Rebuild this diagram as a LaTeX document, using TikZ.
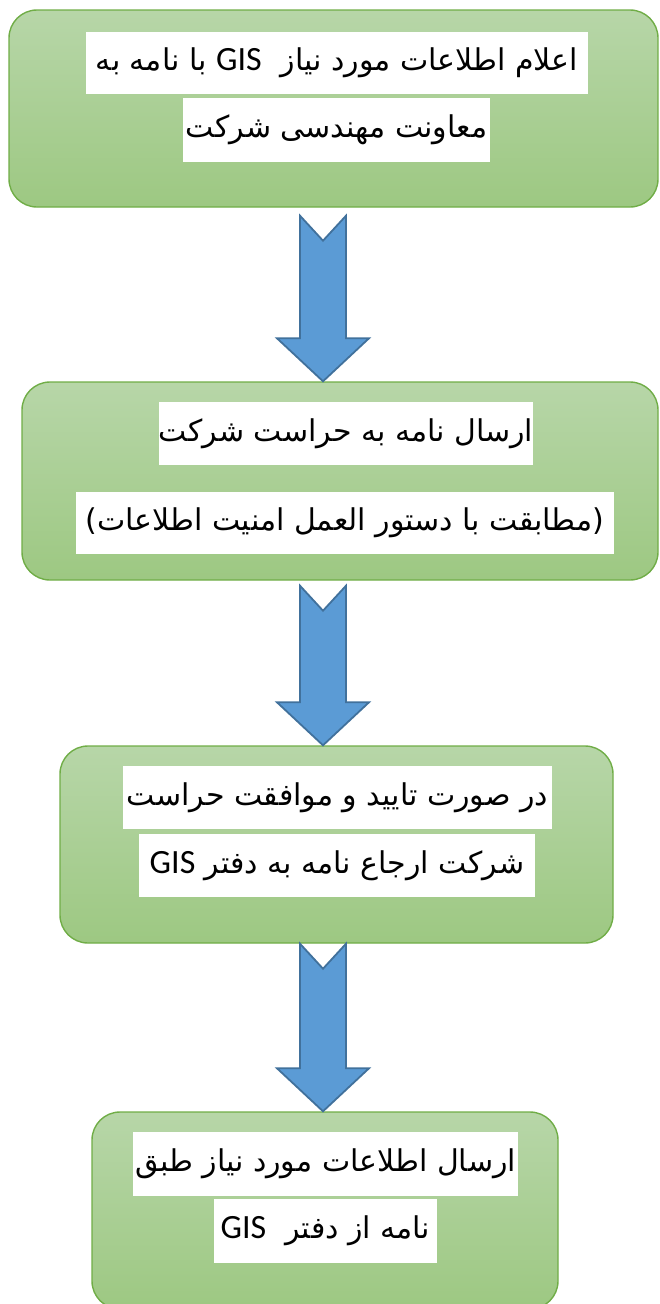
\documentclass[tikz,border=0pt]{standalone}
\usepackage{fontspec}
\TeXXeTstate=1
\newfontfamily\fa[Script=Arabic]{DejaVu Sans}
\newfontfamily\gisfont{Carlito}
\usetikzlibrary{calc}
\definecolor{boxedge}{RGB}{112,173,71}
\definecolor{boxtop}{RGB}{183,214,168}
\definecolor{boxbot}{RGB}{157,200,130}
\definecolor{arrfill}{RGB}{91,155,213}
\definecolor{arredge}{RGB}{65,113,156}
\newcommand\GIS{\beginL{\gisfont\fontsize{34}{40}\selectfont GIS}\endL}
\newcommand\blockarr[2]{%
  \draw[barrow] ($(#1)+(-23,0)$) -- ($(#1)+(0,25)$) -- ($(#1)+(23,0)$)
    -- ($(#2)+(23,-43)$) -- ($(#2)+(46,-43)$) -- (#2)
    -- ($(#2)+(-46,-43)$) -- ($(#2)+(-23,-43)$) -- cycle;}
\begin{document}
\begin{tikzpicture}[x=1pt,y=-1pt,
  stepbox/.style={draw=boxedge, line width=1.4pt, rounded corners=28pt,
    top color=boxtop, bottom color=boxbot, inner sep=0pt},
  textline/.style={fill=white, inner sep=0pt, text=black,
    font=\fa\fontsize{30}{36}\selectfont},
  barrow/.style={fill=arrfill, draw=arredge, line width=1.8pt, line join=miter}]
\useasboundingbox (0,0) rectangle (659,1304);
% boxes
\node[stepbox, minimum width=649pt, minimum height=197pt] (b1) at (333.5,108.5) {};
\node[stepbox, minimum width=636pt, minimum height=198pt] (b2) at (340,481) {};
\node[stepbox, minimum width=553pt, minimum height=197pt] (b3) at (336.5,844.5) {};
\node[stepbox, minimum width=466pt, minimum height=197pt] (b4) at (325,1210.5) {};
% text lines
\node[textline, minimum width=502pt, minimum height=62pt] (t1a) at (337,63)
  {\beginR اعلام اطلاعات مورد نیاز\ \ \GIS\ با نامه به\endR};
\node[textline, minimum width=307pt, minimum height=64pt] (t1b) at (336.5,130)
  {\beginR معاونت مهندسی شرکت\endR};
\node[textline, minimum width=372pt, minimum height=63pt] (t2a) at (346,433.5)
  {\beginR ارسال نامه به حراست شرکت\endR};
\node[textline, minimum width=538pt, minimum height=62pt] (t2b) at (345,523)
  {\beginR\hbox{(}مطابقت با دستور العمل امنیت اطلاعات\hbox{)}\endR};
\node[textline, minimum width=429pt, minimum height=63pt] (t3a) at (337.5,797.5)
  {\beginR در صورت تایید و موافقت حراست\endR};
\node[textline, minimum width=396pt, minimum height=63pt] (t3b) at (337,865.5)
  {\beginR شرکت ارجاع نامه به دفتر \GIS\endR};
\node[textline, minimum width=385pt, minimum height=64pt] (t4a) at (325.5,1164)
  {\beginR ارسال اطلاعات مورد نیاز طبق\endR};
\node[textline, minimum width=223pt, minimum height=64pt] (t4b) at (325.5,1231)
  {\beginR نامه از دفتر\ \ \GIS\endR};
% arrows
\coordinate (ax) at (323,0);
\coordinate (s1) at ($(ax |- b1.south)+(0,8)$);
\coordinate (e1) at (ax |- b2.north);
\coordinate (s2) at ($(ax |- b2.south)+(0,5)$);
\coordinate (e2) at (ax |- b3.north);
\coordinate (s3) at (ax |- b3.south);
\coordinate (e3) at (ax |- b4.north);
\blockarr{s1}{e1}
\blockarr{s2}{e2}
\blockarr{s3}{e3}
\end{tikzpicture}
\end{document}
